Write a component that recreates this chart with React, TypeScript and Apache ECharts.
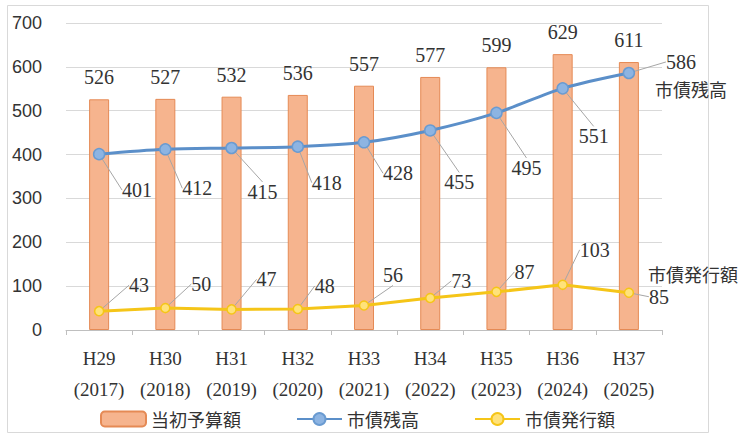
import React, { useEffect, useRef } from "react";
import * as echarts from "echarts";

const categories = ["H29\n(2017)", "H30\n(2018)", "H31\n(2019)", "H32\n(2020)", "H33\n(2021)", "H34\n(2022)", "H35\n(2023)", "H36\n(2024)", "H37\n(2025)"];
const budget = [526, 527, 532, 536, 557, 577, 599, 629, 611];
const debtBalance = [401, 412, 415, 418, 428, 455, 495, 551, 586];
const debtIssued = [43, 50, 47, 48, 56, 73, 87, 103, 85];
const yTicks = { min: 0, max: 700, interval: 100 };

// label offsets (pixels) from each point, mimicking the reference callouts
const balanceLabelOffsets = [[38, 36], [32, 39], [31, 44], [29, 36], [34, 31], [29, 52], [30, 55], [31, 48], [52, -11]];
const issuedLabelOffsets = [[40, -26], [36, -24], [35, -30], [27, -23], [29, -30], [31, -17], [28, -20], [32, -35], [30, 4]];

const SERIF = "'Liberation Serif', 'DejaVu Serif', serif";
const SANS = "'Liberation Sans', 'Noto Sans', sans-serif";
const CJK = "'Noto Sans CJK JP', 'Noto Sans', sans-serif";
const TXT = "#333333";

export default function App() {
  const ref = useRef<HTMLDivElement>(null);
  useEffect(() => {
    if (!ref.current) return;
    const chart = echarts.init(ref.current, undefined, { renderer: "svg" });
    chart.setOption({
      animation: false,
      backgroundColor: "#ffffff",
      grid: { left: 66, right: 79, top: 23, bottom: 104, containLabel: false },
      graphic: [
        {
          type: "rect",
          shape: { x: 7.5, y: 5.5, width: 701, height: 427 },
          style: { fill: "none", stroke: "#d9d9d9", lineWidth: 1 },
          silent: true,
          z: -1,
        },
        {
          type: "text",
          left: 655,
          top: 80,
          style: { text: "市債残高", font: `18px ${CJK}`, fill: TXT },
        },
        {
          type: "text",
          left: 648,
          top: 265,
          style: { text: "市債発行額", font: `18px ${CJK}`, fill: TXT },
        },
      ],
      legend: {
        left: 95,
        top: 405,
        itemGap: 55,
        itemWidth: 45,
        itemHeight: 15,
        textStyle: { fontFamily: CJK, fontSize: 18, color: TXT },
        data: [
          { name: "当初予算額" },
          { name: "市債残高" },
          { name: "市債発行額" },
        ],
      },
      xAxis: {
        type: "category",
        data: categories,
        boundaryGap: true,
        axisLine: { lineStyle: { color: "#bfbfbf", width: 1 } },
        axisTick: { show: true, length: 5, lineStyle: { color: "#bfbfbf" } },
        axisLabel: {
          fontFamily: SERIF,
          fontSize: 19,
          color: TXT,
          lineHeight: 31,
          margin: 13,
          interval: 0,
        },
      },
      yAxis: {
        type: "value",
        min: yTicks.min,
        max: yTicks.max,
        interval: yTicks.interval,
        axisLine: { show: false },
        axisTick: { show: false },
        splitLine: { lineStyle: { color: "#d9d9d9", width: 1 } },
        axisLabel: { fontFamily: SANS, fontSize: 18, color: TXT, margin: 24 },
      },
      series: [
        {
          name: "当初予算額",
          type: "bar",
          data: budget,
          barWidth: 20,
          itemStyle: { color: "#f6b48e", borderColor: "#e58a55", borderWidth: 1 },
          label: {
            show: true,
            position: "top",
            distance: 12,
            fontFamily: SERIF,
            fontSize: 20,
            color: TXT,
          },
          z: 1,
        },
        {
          name: "市債残高",
          type: "line",
          data: debtBalance,
          smooth: 0.3,
          symbol: "circle",
          symbolSize: 11,
          lineStyle: { color: "#5b8fc9", width: 3 },
          itemStyle: { color: "#8db4e2", borderColor: "#6a9bd1", borderWidth: 1.5 },
          label: {
            show: true,
            position: "inside",
            fontFamily: SERIF,
            fontSize: 20,
            color: TXT,
          },
          labelLine: { show: true, lineStyle: { color: "#a6a6a6", width: 1 } },
          labelLayout: (p: any) => {
            const o = balanceLabelOffsets[p.dataIndex] || [0, 0];
            return { dx: o[0], dy: o[1] };
          },
          z: 3,
        },
        {
          name: "市債発行額",
          type: "line",
          data: debtIssued,
          smooth: false,
          symbol: "circle",
          symbolSize: 9,
          lineStyle: { color: "#f5c518", width: 3 },
          itemStyle: { color: "#ffe27a", borderColor: "#f5c518", borderWidth: 1.5 },
          label: {
            show: true,
            position: "inside",
            fontFamily: SERIF,
            fontSize: 20,
            color: TXT,
          },
          labelLine: { show: true, lineStyle: { color: "#a6a6a6", width: 1 } },
          labelLayout: (p: any) => {
            const o = issuedLabelOffsets[p.dataIndex] || [0, 0];
            return { dx: o[0], dy: o[1] };
          },
          z: 3,
        },
      ],
    });
    return () => chart.dispose();
  }, []);
  return (
    <div
      ref={ref}
      style={{ position: "fixed", left: 0, top: 0, width: 741, height: 434 }}
    />
  );
}
